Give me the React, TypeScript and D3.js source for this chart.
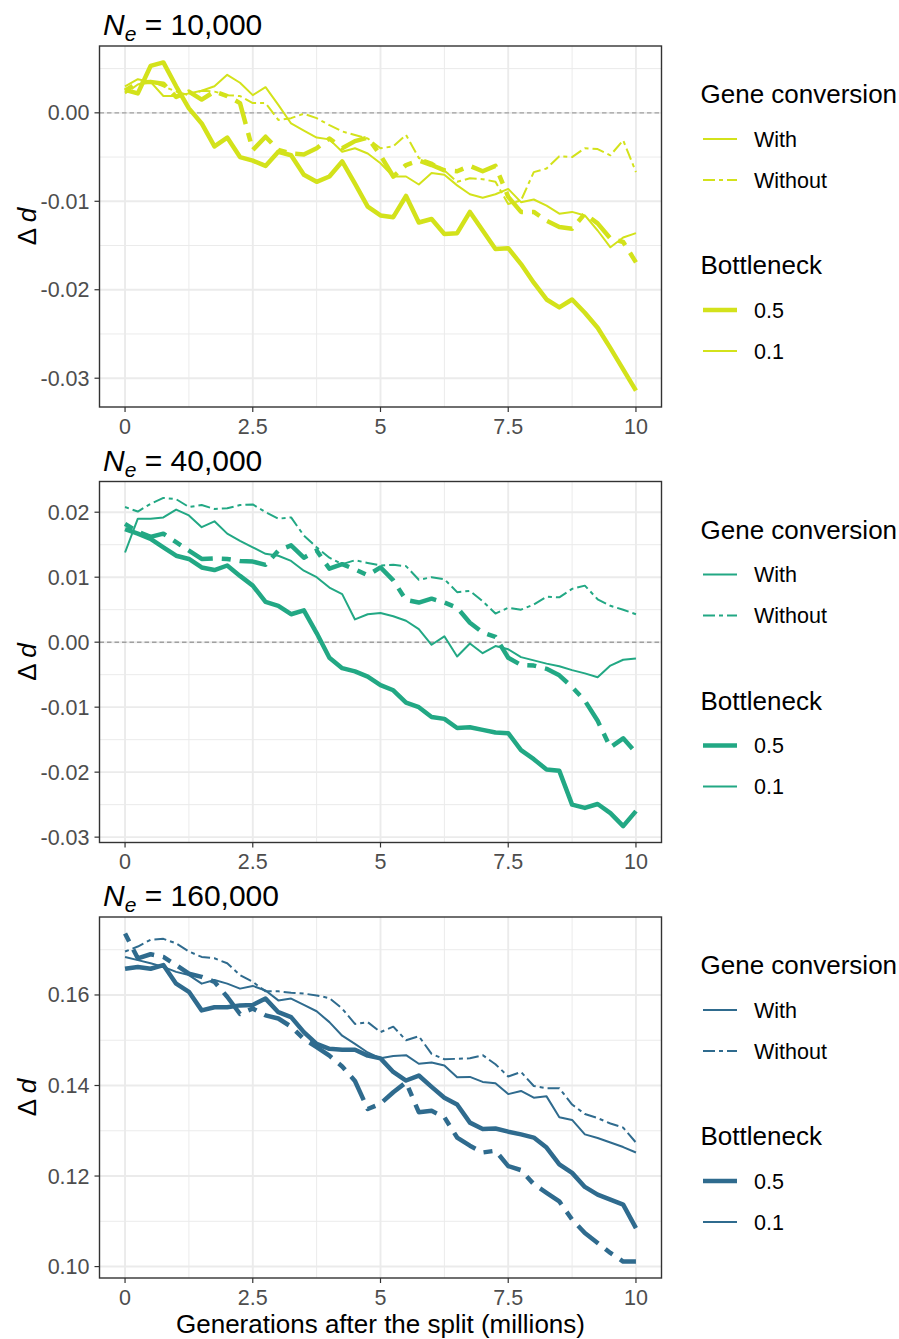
import React from 'react';
import * as d3 from 'd3';

// ---------- data ----------
const generations = [0, 0.25, 0.5, 0.75, 1, 1.25, 1.5, 1.75, 2, 2.25, 2.5, 2.75, 3, 3.25, 3.5, 3.75, 4, 4.25, 4.5, 4.75, 5, 5.25, 5.5, 5.75, 6, 6.25, 6.5, 6.75, 7, 7.25, 7.5, 7.75, 8, 8.25, 8.5, 8.75, 9, 9.25, 9.5, 9.75, 10];

const xTicks = [0, 2.5, 5, 7.5, 10];
const xTickLabels = ['0', '2.5', '5', '7.5', '10'];
const xMinorTicks = [1.25, 3.75, 6.25, 8.75];

// Ne = 10,000
const ne10kWith05 = [0.0026, 0.0022, 0.0053, 0.0057, 0.0030, 0.0005, -0.0012, -0.0038, -0.0028, -0.0050, -0.0054, -0.0060, -0.0044, -0.0048, -0.0070, -0.0078, -0.0072, -0.0055, -0.0080, -0.0106, -0.0116, -0.0118, -0.0094, -0.0124, -0.0120, -0.0137, -0.0136, -0.0112, -0.0133, -0.0154, -0.0153, -0.0171, -0.0192, -0.0211, -0.0220, -0.0211, -0.0226, -0.0243, -0.0266, -0.0290, -0.0314];
const ne10kWith01 = [0.0030, 0.0038, 0.0035, 0.0019, 0.0019, 0.0022, 0.0025, 0.0030, 0.0043, 0.0034, 0.0020, 0.0029, 0.0009, -0.0012, -0.0020, -0.0028, -0.0030, -0.0044, -0.0040, -0.0046, -0.0057, -0.0072, -0.0072, -0.0081, -0.0068, -0.0070, -0.0082, -0.0092, -0.0096, -0.0092, -0.0086, -0.0101, -0.0098, -0.0105, -0.0114, -0.0112, -0.0116, -0.0133, -0.0152, -0.0141, -0.0136];
const ne10kWithout05 = [0.0025, 0.0034, 0.0035, 0.0033, 0.0018, 0.0024, 0.0015, 0.0024, 0.0019, 0.0011, -0.0042, -0.0027, -0.0042, -0.0046, -0.0047, -0.0040, -0.0029, -0.0040, -0.0032, -0.0028, -0.0048, -0.0072, -0.0059, -0.0054, -0.0059, -0.0065, -0.0066, -0.0060, -0.0066, -0.0060, -0.0095, -0.0112, -0.0112, -0.0122, -0.0129, -0.0131, -0.0114, -0.0125, -0.0142, -0.0146, -0.0169];
const ne10kWithout01 = [0.0022, 0.0032, 0.0036, 0.0030, 0.0024, 0.0020, 0.0025, 0.0024, 0.0020, 0.0019, 0.0011, 0.0011, -0.0008, -0.0006, -0.0001, -0.0006, -0.0014, -0.0021, -0.0025, -0.0029, -0.0040, -0.0038, -0.0025, -0.0051, -0.0056, -0.0065, -0.0078, -0.0074, -0.0075, -0.0078, -0.0103, -0.0099, -0.0067, -0.0063, -0.0049, -0.0050, -0.0040, -0.0041, -0.0048, -0.0031, -0.0067];

// Ne = 40,000
const ne40kWith05 = [0.0174, 0.0167, 0.0159, 0.0146, 0.0133, 0.0128, 0.0115, 0.0111, 0.0118, 0.0102, 0.0087, 0.0062, 0.0056, 0.0043, 0.0049, 0.0014, -0.0024, -0.0040, -0.0045, -0.0053, -0.0066, -0.0074, -0.0093, -0.0100, -0.0115, -0.0118, -0.0132, -0.0131, -0.0135, -0.0139, -0.0140, -0.0166, -0.0180, -0.0196, -0.0198, -0.0250, -0.0255, -0.0249, -0.0263, -0.0283, -0.0260];
const ne40kWith01 = [0.0138, 0.0190, 0.0190, 0.0192, 0.0204, 0.0195, 0.0177, 0.0186, 0.0167, 0.0156, 0.0146, 0.0136, 0.0133, 0.0125, 0.0110, 0.0100, 0.0084, 0.0074, 0.0035, 0.0043, 0.0045, 0.0040, 0.0033, 0.0020, -0.0004, 0.0009, -0.0022, -0.0002, -0.0017, -0.0006, -0.0011, -0.0023, -0.0028, -0.0033, -0.0037, -0.0043, -0.0048, -0.0054, -0.0036, -0.0027, -0.0025];
const ne40kWithout05 = [0.0182, 0.0170, 0.0162, 0.0167, 0.0154, 0.0141, 0.0128, 0.0129, 0.0128, 0.0125, 0.0124, 0.0119, 0.0141, 0.0149, 0.0130, 0.0141, 0.0113, 0.0120, 0.0112, 0.0103, 0.0115, 0.0095, 0.0065, 0.0061, 0.0067, 0.0061, 0.0053, 0.0030, 0.0015, 0.0008, -0.0024, -0.0035, -0.0036, -0.0041, -0.0051, -0.0069, -0.0090, -0.0121, -0.0162, -0.0148, -0.0170];
const ne40kWithout01 = [0.0208, 0.0201, 0.0213, 0.0222, 0.0220, 0.0208, 0.0211, 0.0205, 0.0206, 0.0211, 0.0212, 0.0200, 0.0190, 0.0192, 0.0164, 0.0146, 0.0130, 0.0120, 0.0126, 0.0122, 0.0118, 0.0119, 0.0117, 0.0096, 0.0100, 0.0097, 0.0077, 0.0079, 0.0063, 0.0044, 0.0053, 0.0050, 0.0058, 0.0070, 0.0069, 0.0082, 0.0087, 0.0066, 0.0056, 0.0050, 0.0043];

// Ne = 160,000
const ne160kWith05 = [0.1658, 0.1662, 0.1658, 0.1666, 0.1625, 0.1607, 0.1566, 0.1573, 0.1573, 0.1577, 0.1578, 0.1592, 0.1562, 0.1551, 0.1518, 0.1492, 0.1481, 0.1479, 0.1479, 0.1466, 0.1460, 0.1430, 0.1411, 0.1422, 0.1397, 0.1373, 0.1358, 0.1318, 0.1304, 0.1305, 0.1298, 0.1292, 0.1285, 0.1263, 0.1226, 0.1207, 0.1176, 0.1159, 0.1148, 0.1137, 0.1085];
const ne160kWith01 = [0.1684, 0.1677, 0.1670, 0.1662, 0.1651, 0.1644, 0.1625, 0.1633, 0.1625, 0.1614, 0.1620, 0.1610, 0.1588, 0.1592, 0.1578, 0.1564, 0.1540, 0.1510, 0.1492, 0.1473, 0.1460, 0.1465, 0.1467, 0.1448, 0.1451, 0.1444, 0.1418, 0.1419, 0.1408, 0.1405, 0.1381, 0.1388, 0.1373, 0.1376, 0.1330, 0.1324, 0.1292, 0.1284, 0.1274, 0.1264, 0.1252];
const ne160kWithout05 = [0.1736, 0.1681, 0.1690, 0.1684, 0.1666, 0.1647, 0.1640, 0.1629, 0.1596, 0.1558, 0.1570, 0.1555, 0.1548, 0.1530, 0.1503, 0.1485, 0.1466, 0.1442, 0.1410, 0.1348, 0.1360, 0.1385, 0.1407, 0.1341, 0.1344, 0.1330, 0.1285, 0.1267, 0.1252, 0.1256, 0.1222, 0.1213, 0.1182, 0.1163, 0.1144, 0.1104, 0.1074, 0.1052, 0.1030, 0.1011, 0.1011];
const ne160kWithout01 = [0.1696, 0.1707, 0.1722, 0.1724, 0.1714, 0.1696, 0.1684, 0.1681, 0.1670, 0.1644, 0.1629, 0.1608, 0.1608, 0.1605, 0.1603, 0.1599, 0.1593, 0.1570, 0.1536, 0.1540, 0.1518, 0.1530, 0.1500, 0.1509, 0.1470, 0.1458, 0.1459, 0.1460, 0.1467, 0.1447, 0.1420, 0.1430, 0.1399, 0.1394, 0.1394, 0.1358, 0.1337, 0.1328, 0.1316, 0.1307, 0.1274];

const neLabels = ['10,000', '40,000', '160,000'];
const neColors = ['#d3e21b', '#22a884', '#2f6b8e'];
const yTicks10k = [0, -0.01, -0.02, -0.03];
const yTickLabels10k = ['0.00', '-0.01', '-0.02', '-0.03'];
const yTicks40k = [0.02, 0.01, 0, -0.01, -0.02, -0.03];
const yTickLabels40k = ['0.02', '0.01', '0.00', '-0.01', '-0.02', '-0.03'];
const yTicks160k = [0.16, 0.14, 0.12, 0.10];
const yTickLabels160k = ['0.16', '0.14', '0.12', '0.10'];

const conversionLabels = ['With', 'Without'];
const bottleneckLabels = ['0.5', '0.1'];

// ---------- layout ----------
const W = 899;
const H = 1339;
const PL = 99.5;
const PR = 661.5;
const PH = 361;
const panelTops = [46, 481.5, 917];
const FONT = "'Liberation Sans', Arial, Helvetica, sans-serif";
const THIN = 2;
const THICK = 4.5;
const dashFor = (w: number) => `${2 * w},${2 * w},${6 * w},${2 * w}`;

type Series = { conv: string; bott: string; values: number[] };

const panels = [
  {
    ne: neLabels[0], color: neColors[0], yTicks: yTicks10k, yTickLabels: yTickLabels10k, zero: true,
    series: [
      { conv: 'With', bott: '0.5', values: ne10kWith05 },
      { conv: 'Without', bott: '0.5', values: ne10kWithout05 },
      { conv: 'With', bott: '0.1', values: ne10kWith01 },
      { conv: 'Without', bott: '0.1', values: ne10kWithout01 },
    ] as Series[],
  },
  {
    ne: neLabels[1], color: neColors[1], yTicks: yTicks40k, yTickLabels: yTickLabels40k, zero: true,
    series: [
      { conv: 'With', bott: '0.5', values: ne40kWith05 },
      { conv: 'Without', bott: '0.5', values: ne40kWithout05 },
      { conv: 'With', bott: '0.1', values: ne40kWith01 },
      { conv: 'Without', bott: '0.1', values: ne40kWithout01 },
    ] as Series[],
  },
  {
    ne: neLabels[2], color: neColors[2], yTicks: yTicks160k, yTickLabels: yTickLabels160k, zero: false,
    series: [
      { conv: 'With', bott: '0.5', values: ne160kWith05 },
      { conv: 'Without', bott: '0.5', values: ne160kWithout05 },
      { conv: 'With', bott: '0.1', values: ne160kWith01 },
      { conv: 'Without', bott: '0.1', values: ne160kWithout01 },
    ] as Series[],
  },
];

function Panel({ p, top, idx }: { p: typeof panels[number]; top: number; idx: number }) {
  const bottom = top + PH;
  const x = d3.scaleLinear().domain([-0.5, 10.5]).range([PL, PR]);
  const all = p.series.flatMap((s) => s.values);
  const lo = d3.min(all) as number;
  const hi = d3.max(all) as number;
  const pad = (hi - lo) * 0.05;
  const y = d3.scaleLinear().domain([lo - pad, hi + pad]).range([bottom, top]);
  const step = Math.abs(p.yTicks[0] - p.yTicks[1]);
  const minorY: number[] = [];
  p.yTicks.forEach((t) => {
    [t - step / 2, t + step / 2].forEach((m) => {
      const mm = Math.round(m * 1e6) / 1e6;
      if (mm >= y.domain()[0] && mm <= y.domain()[1] && !minorY.includes(mm)) minorY.push(mm);
    });
  });
  const line = d3.line<number>().x((_, i) => x(generations[i])).y((v) => y(v));
  const clipId = `clip${idx}`;
  const lgTop = top;
  return (
    <g>
      <defs>
        <clipPath id={clipId}>
          <rect x={PL} y={top} width={PR - PL} height={PH} />
        </clipPath>
      </defs>
      <rect x={PL} y={top} width={PR - PL} height={PH} fill="#fff" />
      {minorY.map((t) => (
        <line key={'my' + t} x1={PL} x2={PR} y1={y(t)} y2={y(t)} stroke="#ebebeb" strokeWidth={1} />
      ))}
      {xMinorTicks.map((t) => (
        <line key={'mx' + t} x1={x(t)} x2={x(t)} y1={top} y2={bottom} stroke="#ebebeb" strokeWidth={1} />
      ))}
      {p.yTicks.map((t) => (
        <line key={'gy' + t} x1={PL} x2={PR} y1={y(t)} y2={y(t)} stroke="#ebebeb" strokeWidth={1.9} />
      ))}
      {xTicks.map((t) => (
        <line key={'gx' + t} x1={x(t)} x2={x(t)} y1={top} y2={bottom} stroke="#ebebeb" strokeWidth={1.9} />
      ))}
      {p.zero && (
        <line x1={PL} x2={PR} y1={y(0)} y2={y(0)} stroke="#a0a0a0" strokeWidth={1.4} strokeDasharray="4.5,3" />
      )}
      <g clipPath={`url(#${clipId})`}>
        {p.series.map((s, i) => {
          const w = s.bott === '0.5' ? THICK : THIN;
          return (
            <path
              key={i}
              d={line(s.values) as string}
              fill="none"
              stroke={p.color}
              strokeWidth={w}
              strokeLinejoin="round"
              strokeLinecap="butt"
              strokeDasharray={s.conv === 'Without' ? dashFor(w) : undefined}
            />
          );
        })}
      </g>
      <rect x={PL} y={top} width={PR - PL} height={PH} fill="none" stroke="#333" strokeWidth={1.4} />
      {/* y axis */}
      {p.yTicks.map((t, i) => (
        <g key={'yt' + t}>
          <line x1={PL - 5} x2={PL} y1={y(t)} y2={y(t)} stroke="#333" strokeWidth={1.2} />
          <text x={PL - 10} y={y(t) + 7.5} textAnchor="end" fontSize={21.5} fill="#4d4d4d" fontFamily={FONT}>
            {p.yTickLabels[i]}
          </text>
        </g>
      ))}
      {/* x axis */}
      {xTicks.map((t, i) => (
        <g key={'xt' + t}>
          <line x1={x(t)} x2={x(t)} y1={bottom} y2={bottom + 5} stroke="#333" strokeWidth={1.2} />
          <text x={x(t)} y={bottom + 26.5} textAnchor="middle" fontSize={21.5} fill="#4d4d4d" fontFamily={FONT}>
            {xTickLabels[i]}
          </text>
        </g>
      ))}
      {/* y title */}
      <text
        transform={`translate(36, ${top + PH / 2}) rotate(-90)`}
        textAnchor="middle"
        fontSize={26}
        fill="#000"
        fontFamily={FONT}
      >
        Δ <tspan fontStyle="italic">d</tspan>
      </text>
      {/* panel title */}
      <text x={103} y={top - 11} fontSize={30} fill="#000" fontFamily={FONT}>
        <tspan fontStyle="italic">N</tspan>
        <tspan fontStyle="italic" fontSize={21} dy={6}>e</tspan>
        <tspan dy={-6}>{' = ' + p.ne}</tspan>
      </text>
      {/* legend */}
      <g fontFamily={FONT}>
        <text x={700.5} y={lgTop + 57} fontSize={26} fill="#000">Gene conversion</text>
        {conversionLabels.map((lab, i) => {
          const ly = lgTop + 93 + i * 41;
          return (
            <g key={lab}>
              <line x1={703} x2={737} y1={ly} y2={ly} stroke={p.color} strokeWidth={THIN}
                strokeDasharray={lab === 'Without' ? dashFor(THIN) : undefined}
                strokeDashoffset={lab === 'Without' ? 4 * THIN : undefined} />
              <text x={754} y={ly + 7.5} fontSize={21.5} fill="#000">{lab}</text>
            </g>
          );
        })}
        <text x={700.5} y={lgTop + 228} fontSize={26} fill="#000">Bottleneck</text>
        {bottleneckLabels.map((lab, i) => {
          const ly = lgTop + 264 + i * 41;
          return (
            <g key={lab}>
              <line x1={703} x2={737} y1={ly} y2={ly} stroke={p.color} strokeWidth={lab === '0.5' ? THICK : THIN} />
              <text x={754} y={ly + 7.5} fontSize={21.5} fill="#000">{lab}</text>
            </g>
          );
        })}
      </g>
    </g>
  );
}

export default function App() {
  return (
    <div style={{ position: 'absolute', left: 0, top: 0, width: W, height: H, background: '#fff' }}>
      <svg width={W} height={H} style={{ display: 'block' }}>
        <rect x={0} y={0} width={W} height={H} fill="#fff" />
        {panels.map((p, i) => (
          <Panel key={i} p={p} top={panelTops[i]} idx={i} />
        ))}
        <text x={(PL + PR) / 2} y={1333} textAnchor="middle" fontSize={26} fill="#000" fontFamily={FONT}>
          Generations after the split (millions)
        </text>
      </svg>
    </div>
  );
}
